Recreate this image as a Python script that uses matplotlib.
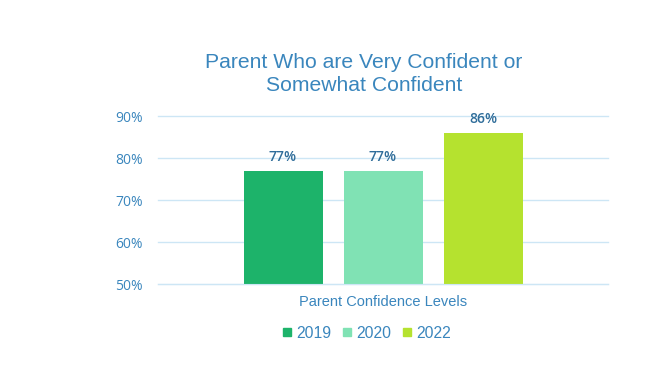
import matplotlib
matplotlib.use("Agg")
import matplotlib.pyplot as plt
from matplotlib.patches import Patch

years = ["2019", "2020", "2022"]
values = [77, 77, 86]
colors = ["#1db36a", "#80e2b4", "#b5e22f"]
yticks = [50, 60, 70, 80, 90]
title = "Parent Who are Very Confident or\nSomewhat Confident"
xlabel = "Parent Confidence Levels"

blue = "#3a86bd"
fig = plt.figure(figsize=(6.7, 3.81), dpi=100)
ax = fig.add_axes([158/670, 1-284/381, 450/670, 168/381])
pos = [-1, 0, 1]
bars = ax.bar(pos, values, width=0.79, color=colors, zorder=3)
for p, v in zip(pos, values):
    ax.text(p, v + 1.6, f"{v}%", ha="center", va="bottom", fontsize=10,
            color="#2f6d9a", family="Open Sans", fontweight="semibold")
ax.set_xlim(-2.25, 2.25)
ax.set_ylim(50, 90)
ax.set_yticks(yticks)
ax.set_yticklabels([f"{t}%" for t in yticks], family="Open Sans", fontsize=10,
                   color=blue, fontweight="medium")
ax.set_xticks([])
ax.tick_params(axis="y", length=0, pad=11)
ax.grid(axis="y", color="#cde6f5", linewidth=1, zorder=0)
for gl in ax.get_ygridlines():
    gl.set_clip_on(False)
for s in ax.spines.values():
    s.set_visible(False)
ax.spines["bottom"].set_visible(True)
ax.spines["bottom"].set_color("#cde6f5")
ax.spines["bottom"].set_zorder(4)
fig.text(364/670, 1-74/381, title, ha="center", va="center", fontsize=15.2,
         color=blue, family="Liberation Sans", linespacing=1.25)
fig.text(383/670, 1-302/381, xlabel, ha="center", va="center", fontsize=10.5,
         color=blue, family="Liberation Sans")
handles = [Patch(color=c, label=y) for c, y in zip(colors, years)]
leg = fig.legend(handles=handles, loc="center", bbox_to_anchor=(367/670, 1-333/381),
                 ncol=3, frameon=False, handlelength=0.46, handleheight=0.46,
                 handletextpad=0.33, columnspacing=0.8,
                 prop={"family": "Liberation Sans", "size": 11.3})
for t in leg.get_texts():
    t.set_color(blue)
fig.savefig("out.png", dpi=100)
